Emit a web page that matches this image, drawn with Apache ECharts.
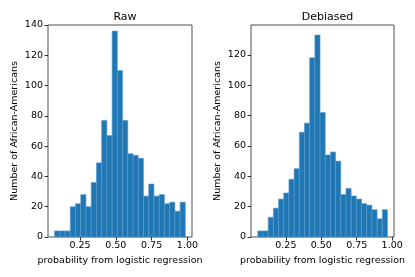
<!DOCTYPE html>
<html><head><meta charset="utf-8">
<script src="https://cdn.jsdelivr.net/npm/echarts@6/dist/echarts.min.js"></script>
<style>html,body{margin:0;padding:0;background:#fff}#c{width:415px;height:277px}</style>
</head><body><div id="c"></div>
<script>
// Data
const titles = ["Raw", "Debiased"];
const rawBinStart = 0.073, rawBinWidth = 0.0365;
const rawCounts = [4,4,4,20,22,28,20,36,49,77,67,136,110,77,55,54,52,27,35,27,28,22,23,17,23];
const debBinStart = 0.052, debBinWidth = 0.0366;
const debCounts = [4,4,13,19,25,29,38,45,69,75,118,133,82,54,56,50,28,32,27,25,22,21,18,12,18];
const xTicks = [0.25, 0.50, 0.75, 1.00];
const yTicksRaw = [0,20,40,60,80,100,120,140];
const yTicksDeb = [0,20,40,60,80,100,120];
const xName = "probability from logistic regression";
const yName = "Number of African-Americans";

function bins(start, width, counts){
  return counts.map((c,i)=>[start+i*width, start+(i+1)*width, c]);
}

const chart = echarts.init(document.getElementById('c'), null, {renderer:'canvas'});
const font = 'DejaVu Sans';
function xAxis(idx, min, max){
  return {type:'value', gridIndex:idx, min:min, max:max,
    name:xName, nameLocation:'middle', nameGap:16,
    nameTextStyle:{fontFamily:font, fontSize:9.5, color:'#000'},
    axisLine:{show:false}, splitLine:{show:false},
    axisTick:{show:true, inside:false, length:3.5, customValues:xTicks, lineStyle:{color:'#000', width:0.8}},
    axisLabel:{fontFamily:font, fontSize:9.5, color:'#000', margin:4, customValues:xTicks,
      formatter:v=> v.toFixed(2)}};
}
function yAxis(idx, max, ticks){
  return {type:'value', gridIndex:idx, min:0, max:max,
    name:yName, nameLocation:'middle', nameGap:28, nameRotate:90,
    nameTextStyle:{fontFamily:font, fontSize:9.5, color:'#000'},
    axisLine:{show:false}, splitLine:{show:false},
    axisTick:{show:true, inside:false, length:3.5, customValues:ticks, lineStyle:{color:'#000', width:0.8}},
    axisLabel:{fontFamily:font, fontSize:9.5, color:'#000', margin:5, customValues:ticks}};
}
function series(idx, data){
  return {type:'custom', xAxisIndex:idx, yAxisIndex:idx, data:data,
    renderItem:function(params, api){
      const p0 = api.coord([api.value(0), api.value(2)]);
      const p1 = api.coord([api.value(1), 0]);
      return {type:'rect', shape:{x:p0[0], y:p0[1], width:p1[0]-p0[0], height:p1[1]-p0[1]},
        style:{fill:'#1f77b4', stroke:'#5b9bd0', lineWidth:0.6}};
    }};
}
chart.setOption({
  animation:false,
  title:[
    {text:titles[0], left:120, top:7, textAlign:'center', textStyle:{fontFamily:font, fontSize:11, fontWeight:'normal', color:'#000'}},
    {text:titles[1], left:322.5, top:7, textAlign:'center', textStyle:{fontFamily:font, fontSize:11, fontWeight:'normal', color:'#000'}}
  ],
  grid:[
    {left:48, right:223, top:25, bottom:40, show:true, borderColor:'#222', borderWidth:0.8, backgroundColor:'transparent'},
    {left:251, right:21, top:25, bottom:40, show:true, borderColor:'#222', borderWidth:0.8, backgroundColor:'transparent'}
  ],
  xAxis:[xAxis(0, 0.027, 1.032), xAxis(1, 0.004, 1.013)],
  yAxis:[yAxis(0, 140, yTicksRaw), yAxis(1, 139.65, yTicksDeb)],
  series:[series(0, bins(rawBinStart, rawBinWidth, rawCounts)), series(1, bins(debBinStart, debBinWidth, debCounts))]
});
</script></body></html>
